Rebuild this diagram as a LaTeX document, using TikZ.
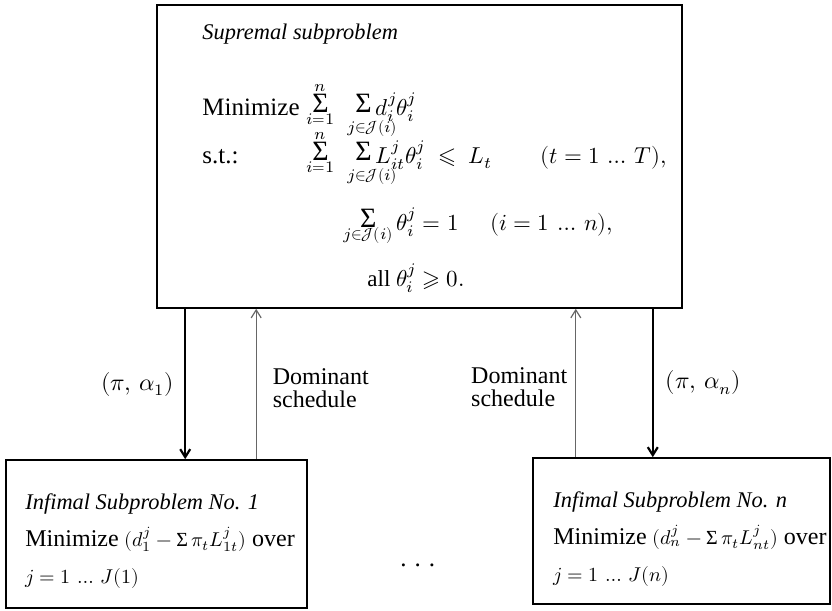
\documentclass[tikz,border=0pt]{standalone}
\usepackage{amsmath,amssymb,mathtools,fontspec,unicode-math}
\setmainfont{Liberation Serif}
\usetikzlibrary{positioning,arrows.meta}
\definecolor{schedgray}{gray}{0.4}
% sum with limits stacked close to the sign
\newcommand{\bsum}[2]{\mathop{\lower4.5pt\vbox{\baselineskip=0pt\lineskiplimit=-\maxdimen
  \halign{\hfil##\hfil\cr$\scriptstyle#2$\cr\noalign{\kern10.5pt}
    {\fontsize{14}{14}\selectfont Σ}\cr\noalign{\kern6pt}$\scriptstyle#1$\cr}}}}
\newcommand{\isum}{\mathop{\textup{Σ}}\nolimits}
\newcommand{\Jset}{\mathscr{J}}
\newcommand{\jsub}{\mathrlap{\kern-8pt\raisebox{-4pt}{$\scriptstyle j\in\Jset(i)$}}}
\newcommand{\tit}[1]{{\fontsize{11.2}{18.5}\selectfont\itshape #1}}
\newcommand{\smallmath}[1]{{\fontsize{10}{18.5}\selectfont$#1$}}

\begin{document}
\begin{tikzpicture}[x=0.5pt,y=-0.5pt,>={Straight Barb[length=4pt,width=5pt]},
  panel/.style={draw,line width=0.8pt},
  supbox/.style={panel,minimum width=262.5pt,minimum height=151.5pt},
  infbox/.style={panel,minimum width=150.5pt,minimum height=74pt},
  txt/.style={inner sep=0pt,anchor=base west,font=\fontsize{12.5}{15}\selectfont},
  formula/.style={txt,font=\fontsize{11.5}{15}\selectfont},
  boxlines/.style={txt,align=left,font=\fontsize{12}{18.5}\selectfont},
  msg/.style={inner sep=0pt,align=left,font=\fontsize{12}{11.5}\selectfont},
  pricearr/.style={->,line width=1.1pt},
  schedarr/.style={->,line width=0.6pt,draw=schedgray}]
\useasboundingbox (0,0) rectangle (832,611);

% supremal subproblem
\node[supbox] (sup) at (419.5,156.5) {};
\node[txt] (suptitle) at (202,39) {\tit{Supremal subproblem}};
\node[txt] (minlab) at (202,115) {Minimize};
\node[formula] (objfn) at (306,115)
 {$\bsum{i=1}{n}\hspace{8.5pt}\bsum{\jsub}{} d^{j}_{i}\theta^{j}_{i}$};
\node[txt] (stlab) at (202,163) {s.t.:};
\node[formula] (capcon) at (306,163)
 {$\bsum{i=1}{n}\hspace{8.5pt}\bsum{\jsub}{} L^{j}_{it}\theta^{j}_{i}\;\leqslant\; L_t$};
\node[formula] (caprange) at (540,163) {$(t=1\,\ldots\,T),$};
\node[formula] (convex) at (343,230) {$\bsum{j\in\Jset(i)}{}\theta^{j}_{i}=1$};
\node[formula] (convrange) at (490,230) {$(i=1\,\ldots\,n),$};
\node[formula] (nonneg) at (367,286) {all $\theta^{j}_{i}\geqslant 0.$};

% infimal subproblems
\node[infbox] (inf1) at (156.5,534) {};
\node[boxlines] (inf1txt) at (25,583)
 {\tit{Infimal Subproblem No. 1}\\
  Minimize \smallmath{(d^{j}_{1}-\isum\pi_tL^{j}_{1t})} over\\
  \smallmath{j=1\,\ldots\,J(1)}};
\node[infbox,minimum width=148.5pt,minimum height=73pt] (infn) at (681.5,531) {};
\node[boxlines] (infntxt) at (553,581)
 {\tit{Infimal Subproblem No. n}\\
  Minimize \smallmath{(d^{j}_{n}-\isum\pi_tL^{j}_{nt})} over\\
  \smallmath{j=1\,\ldots\,J(n)}};
\node[txt] (gap) at (400,566) {.\hspace{4pt}.\hspace{4pt}.};

% links
\coordinate (p1) at ([xshift=14.5pt]sup.south west);
\coordinate (s1) at ([xshift=50pt]sup.south west);
\coordinate (sn) at ([xshift=-53.5pt]sup.south east);
\coordinate (pn) at ([xshift=-15pt]sup.south east);
\draw[pricearr] (p1) -- (p1 |- inf1.north)
  node[midway,left=5pt,msg] (pa1) {$(\pi,\,\alpha_1)$};
\draw[schedarr] (s1 |- inf1.north) -- (s1)
  node[midway,right=8pt,yshift=-2pt,msg] (ds1) {Dominant\\schedule};
\draw[schedarr] (sn |- infn.north) -- (sn)
  node[midway,left=4pt,yshift=-2pt,msg] (dsn) {Dominant\\schedule};
\draw[pricearr] (pn) -- (pn |- infn.north)
  node[midway,right=6pt,msg] (pan) {$(\pi,\,\alpha_n)$};
\end{tikzpicture}
\end{document}
